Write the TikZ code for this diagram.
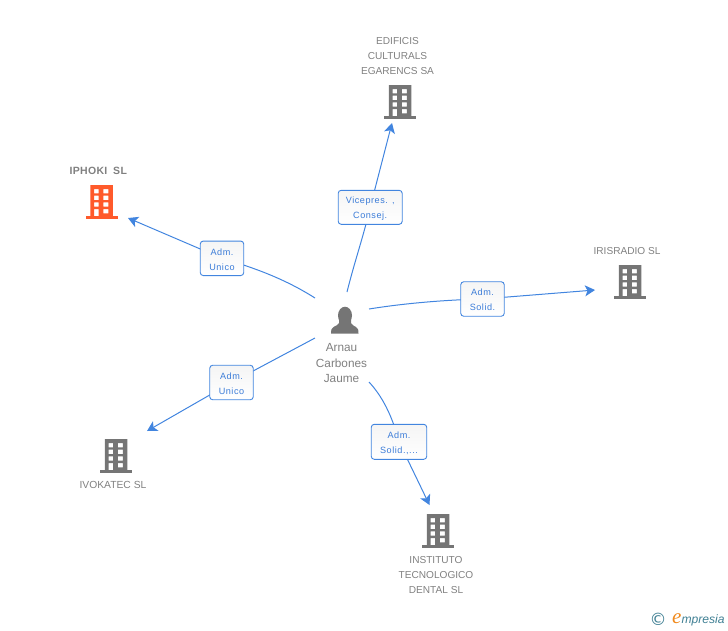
\documentclass[tikz,border=0pt]{standalone}
\usepackage{fontspec}
\setmainfont{Liberation Sans}
\newfontfamily\labfont[LetterSpace=6]{Liberation Sans}
\newfontfamily\wideboldfont[LetterSpace=3,WordSpace=1.8]{Liberation Sans}
\newfontfamily\serifit{Liberation Serif}
\newfontfamily\symfont{DejaVu Sans}
\usetikzlibrary{arrows.meta,backgrounds,positioning}
\definecolor{edgeblue}{HTML}{4285DF}
\definecolor{labblue}{HTML}{3B7CD8}
\definecolor{iconGray}{HTML}{757575}
\definecolor{txtGray}{HTML}{808080}
\definecolor{hotOrange}{HTML}{FF5A2B}
\definecolor{logoTeal}{HTML}{3F7F93}
\definecolor{logoOrange}{HTML}{F08A1D}
\newcommand{\bldicon}[3]{%
  \begin{scope}[shift={(#1,#2)},x=1pt,y=-1pt]
    \fill[#3,even odd rule]
      (-11.2,0) rectangle (11.4,31)
      (-7.5,4) rectangle (-3,8.4) (1.8,4) rectangle (6.8,8.4)
      (-7.5,10.7) rectangle (-3,15) (1.8,10.7) rectangle (6.8,15)
      (-7.5,17.3) rectangle (-3,21.7) (1.8,17.3) rectangle (6.8,21.7)
      (-7.5,24) rectangle (-3,31) (1.8,24) rectangle (6.8,28.3);
    \fill[#3] (-16,31) rectangle (16,33.6);
  \end{scope}}
\newcommand{\tup}{\rule{0pt}{8.6pt}}
\tikzset{
  edgeline/.style={draw=edgeblue,line width=1pt},
  arrowline/.style={edgeline,-{Stealth[length=10pt,width=11pt,inset=2.5pt]}},
  lab/.style={draw=edgeblue,line width=0.9pt,rounded corners=3pt,top color=black!4,bottom color=white,inner sep=0pt,
    text=labblue,align=center,font=\labfont\fontsize{9.1}{15}\selectfont},
  nametxt/.style={text=txtGray,align=center,inner sep=0pt,font=\fontsize{10.1}{15}\selectfont},
}
\begin{document}
\begin{tikzpicture}[x=1pt,y=-1pt]
\useasboundingbox (0,0) rectangle (728,630);
% texts
\node[nametxt] (edif) at (397.5,56) {EDIFICIS\\CULTURALS\\EGARENCS SA};
\node[nametxt,font=\wideboldfont\bfseries\fontsize{10.5}{15}\selectfont] (iphoki) at (98.3,170.5) {IPHOKI SL};
\node[nametxt] (iris) at (627,251) {IRISRADIO SL};
\node[nametxt,font=\fontsize{10.3}{15}\selectfont] (ivo) at (113,485) {IVOKATEC SL};
\node[nametxt] (inst) at (436,575) {INSTITUTO\\TECNOLOGICO\\DENTAL SL};
\node[nametxt,font=\fontsize{11.8}{15.3}\selectfont] (arnau) at (341.5,363) {Arnau\\Carbones\\Jaume};
% icons
\bldicon{400}{85}{iconGray}
\bldicon{101.5}{185}{hotOrange}
\bldicon{630}{265}{iconGray}
\bldicon{116}{439}{iconGray}
\bldicon{438}{514}{iconGray}
% person
\fill[iconGray] (339,320) -- (339,323) .. controls (338.5,325) and (335,326) .. (333.5,327)
  .. controls (331.5,328) and (331,330) .. (331,333.5) -- (358.5,333.5)
  .. controls (358.5,330) and (358,328) .. (356,327)
  .. controls (354.5,326) and (351.5,325) .. (351,323) -- (351,320) -- cycle;
\fill[iconGray] (345,315.5) ellipse (7 and 8.8);
% labels
\node[lab,minimum width=43.5pt,minimum height=34.5pt] (l1) at (222,258.3) {\tup Adm.\\Unico};
\node[lab,minimum width=64pt,minimum height=34pt] (l2) at (370.2,207.3) {\tup Vicepres. ,\\Consej.};
\node[lab,minimum width=43.5pt,minimum height=34.5pt] (l3) at (482.5,299) {\tup Adm.\\Solid.};
\node[lab,minimum width=43.5pt,minimum height=34.5pt] (l4) at (231.5,382.5) {\tup Adm.\\Unico};
\node[lab,minimum width=55.5pt,minimum height=35pt] (l5) at (399,441.8) {\tup Adm.\\Solid.,...};
% connector ends
\coordinate (s1) at (315,298);
\coordinate (t1) at (128,218);
\coordinate (s2) at (347,292);
\coordinate (t2) at (392,123);
\coordinate (s3) at (369,309);
\coordinate (t3) at (595,290);
\coordinate (s4) at (315,338);
\coordinate (t4) at (147,431);
\coordinate (s5) at (369,382);
\coordinate (t5) at (429.5,505);
\begin{scope}[on background layer]
  \draw[edgeline] (s1) .. controls (285,279) and (255,268) .. (l1.center);
  \draw[arrowline] (l1.center) -- (t1);
  \draw[edgeline] (s2) .. controls (355,260) and (363,238) .. (l2.center);
  \draw[arrowline] (l2.center) -- (t2);
  \draw[edgeline] (s3) .. controls (400,304) and (440,300) .. (l3.center);
  \draw[arrowline] (l3.center) -- (t3);
  \draw[edgeline] (s4) -- (l4.center);
  \draw[arrowline] (l4.center) -- (t4);
  \draw[edgeline] (s5) .. controls (382,396) and (392,415) .. (l5.center);
  \draw[arrowline] (l5.center) -- (t5);
\end{scope}
% logo
\node[inner sep=0pt,text=logoTeal,font=\symfont\fontsize{17}{17}\selectfont] (copy) at (658,619) {©};
\node[inner sep=0pt,anchor=base west,text=logoTeal,font=\itshape\fontsize{12.1}{14}\selectfont] (logo) at (672,623)
  {{\color{logoOrange}\serifit\itshape\fontsize{21}{14}\selectfont e}mpresia};
\end{tikzpicture}
\end{document}
